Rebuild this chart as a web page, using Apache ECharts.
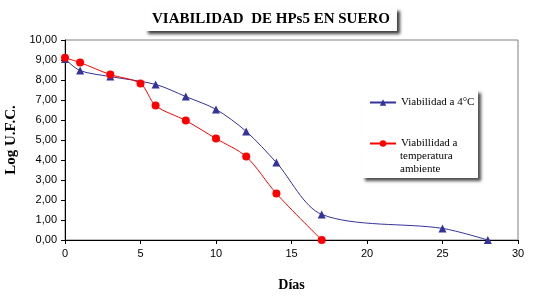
<!DOCTYPE html>
<html><head><meta charset="utf-8">
<script src="https://cdn.jsdelivr.net/npm/echarts@6/dist/echarts.min.js"></script>
<style>html,body{margin:0;padding:0;background:#fff}#c{width:537px;height:298px}</style>
</head><body><div id="c"></div>
<script>
const titleText = 'VIABILIDAD  DE HPs5 EN SUERO';
const xName = 'Días';
const yName = 'Log U.F.C.';
const series1Name = 'Viabilidad a 4°C';
const series2Name = 'Viabillidad a';
const series2Extra = 'temperatura\nambiente';
const days4C = [0, 1, 3, 6, 8, 10, 12, 14, 17, 25, 28];
const vals4C = [9.05, 8.47, 8.17, 7.78, 7.17, 6.53, 5.43, 3.87, 1.28, 0.58, 0.0];
const daysAmb = [0, 1, 3, 5, 6, 8, 10, 12, 14, 17];
const valsAmb = [9.11, 8.87, 8.27, 7.82, 6.72, 5.97, 5.07, 4.17, 2.32, 0.0];

const chart = echarts.init(document.getElementById('c'), null, {renderer: 'canvas'});
const serif = '"Liberation Serif", "Times New Roman", serif';
const sans = '"Liberation Sans", Arial, sans-serif';
chart.setOption({
  animation: false,
  backgroundColor: '#fff',
  title: {
    text: titleText,
    left: 145, top: 8,
    padding: [4, 7, 4, 7],
    backgroundColor: '#fff',
    shadowColor: 'rgba(0,0,0,0.75)', shadowBlur: 3, shadowOffsetX: 3, shadowOffsetY: 3,
    textStyle: {fontFamily: serif, fontWeight: 'bold', fontSize: 15, color: '#000'}
  },
  grid: {left: 65, right: 19, top: 40, bottom: 58, containLabel: false, outerBoundsMode: 'none',
    show: true, borderColor: '#808080', borderWidth: 1, backgroundColor: 'transparent'},
  xAxis: {
    type: 'value', min: 0, max: 30, interval: 5,
    axisLine: {show: true, lineStyle: {color: '#000'}},
    axisTick: {show: true, length: 4, lineStyle: {color: '#000'}},
    axisLabel: {fontFamily: sans, fontSize: 11, color: '#000', margin: 8},
    splitLine: {show: false},
    name: xName, nameLocation: 'middle', nameGap: 38,
    nameTextStyle: {fontFamily: serif, fontWeight: 'bold', fontSize: 14, color: '#000'}
  },
  yAxis: {
    type: 'value', min: 0, max: 10, interval: 1,
    axisLine: {show: true, lineStyle: {color: '#000'}},
    axisTick: {show: true, length: 4, lineStyle: {color: '#000'}},
    axisLabel: {fontFamily: sans, fontSize: 11, color: '#000', margin: 8,
      formatter: v => v.toFixed(2).replace('.', ',')},
    splitLine: {show: false},
    name: yName, nameLocation: 'middle', nameGap: 45, nameRotate: 90,
    nameTextStyle: {fontFamily: serif, fontWeight: 'bold', fontSize: 15, color: '#000'}
  },
  legend: {
    left: 364, top: 92, orient: 'vertical', itemGap: 30, itemWidth: 26, itemHeight: 8,
    textStyle: {fontFamily: serif, fontSize: 11, color: '#000'},
    data: [series1Name, series2Name]
  },
  graphic: [
    {type: 'rect', z: 0, zlevel: 0, shape: {x: 362, y: 90, width: 116, height: 88},
      style: {fill: '#fff', shadowColor: 'rgba(0,0,0,0.7)', shadowBlur: 3, shadowOffsetX: 3, shadowOffsetY: 3}},
    {type: 'text', z: 10, left: 400, top: 150,
      style: {text: series2Extra, font: '11px ' + serif, fill: '#000', lineHeight: 13}}
  ],
  series: [
    {name: series1Name, type: 'line', data: days4C.map((d, i) => [d, vals4C[i]]),
      smooth: 0.3, symbol: 'triangle', symbolSize: 8,
      lineStyle: {color: '#333399', width: 1}, itemStyle: {color: '#333399'}, z: 3},
    {name: series2Name, type: 'line', data: daysAmb.map((d, i) => [d, valsAmb[i]]),
      smooth: 0.3, symbol: 'circle', symbolSize: 8,
      lineStyle: {color: '#ff0000', width: 1}, itemStyle: {color: '#ff0000'}, z: 4}
  ]
});
</script></body></html>
